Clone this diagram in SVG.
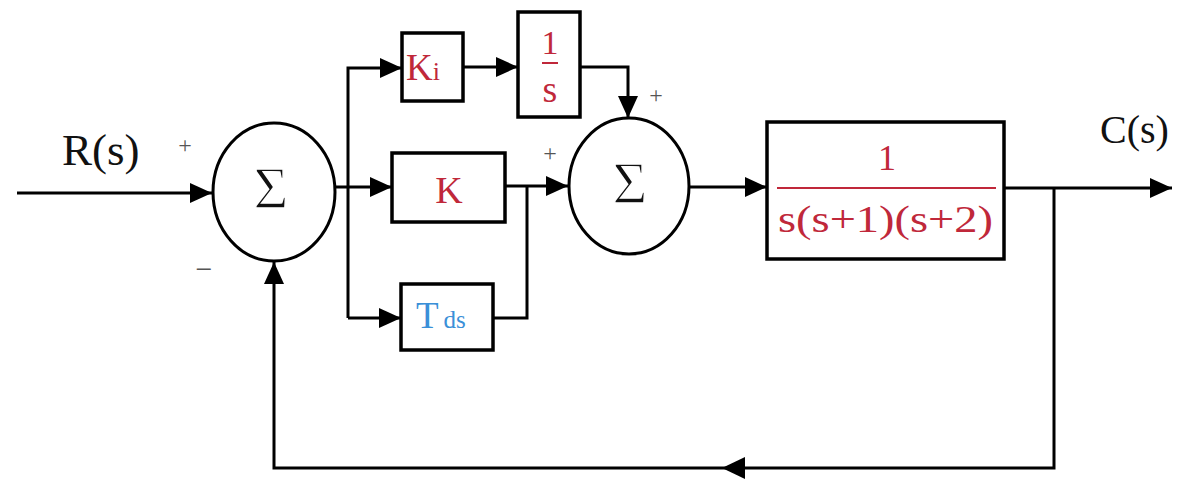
<svg xmlns="http://www.w3.org/2000/svg" width="1178" height="479" viewBox="0 0 1178 479">
<style>
.ln{fill:none;stroke:#000;stroke-width:3}
.bx{fill:#fff;stroke:#000;stroke-width:3.5}
.ci{fill:#fff;stroke:#000;stroke-width:3}
.t{font-family:"Liberation Serif","DejaVu Serif",serif;fill:#111}
.sg{font-family:"Liberation Serif","DejaVu Serif",serif;fill:#111;stroke:#fff;stroke-width:1.4}
.r{font-family:"Liberation Serif","DejaVu Serif",serif;fill:#c0283a}
.b{font-family:"Liberation Serif","DejaVu Serif",serif;fill:#3a90d8}
.pm{font-family:"Liberation Serif",serif;fill:#555}
</style>
<defs>
<marker id="ah" markerUnits="userSpaceOnUse" markerWidth="22" markerHeight="20" refX="22" refY="10" orient="auto">
<path d="M0,0 L22,10 L0,20 Z" fill="#000"/>
</marker>
</defs>
<rect width="1178" height="479" fill="#fff"/>
<g id="connectors">
<path class="ln" d="M17,193 H212" marker-end="url(#ah)"/>
<path class="ln" d="M335,187 H392" marker-end="url(#ah)"/>
<path class="ln" d="M348,318 V68 H402" marker-end="url(#ah)"/>
<path class="ln" d="M348,318 H401" marker-end="url(#ah)"/>
<path class="ln" d="M463,67 H518" marker-end="url(#ah)"/>
<path class="ln" d="M580,67 H628 V118" marker-end="url(#ah)"/>
<path class="ln" d="M505,186 H568" marker-end="url(#ah)"/>
<path class="ln" d="M493,318 H527 V186"/>
<path class="ln" d="M690,187 H767" marker-end="url(#ah)"/>
<path class="ln" d="M1004,188 H1172" marker-end="url(#ah)"/>
<path class="ln" d="M1054,188 V468 H274 V262" marker-end="url(#ah)"/>
<path d="M745,457 L722,468 L745,479 Z" fill="#000"/>
</g>
<g id="sum1">
<ellipse class="ci" cx="274" cy="192" rx="61" ry="69"/>
<text class="sg" x="271" y="208" font-size="60" text-anchor="middle">Σ</text>
</g>
<g id="sum2">
<ellipse class="ci" cx="629" cy="186" rx="60" ry="68"/>
<text class="sg" x="630" y="203" font-size="60" text-anchor="middle">Σ</text>
</g>
<g id="ki">
<rect class="bx" x="402" y="33" width="61" height="68"/>
<text class="r" x="406" y="80" font-size="37">K<tspan font-size="26">i</tspan></text>
</g>
<g id="integ">
<rect class="bx" x="518" y="12" width="62" height="105"/>
<text class="r" x="550" y="54" font-size="34" text-anchor="middle">1</text>
<line x1="542" y1="63" x2="558" y2="63" stroke="#c0283a" stroke-width="2"/>
<text class="r" x="550" y="102" font-size="38" text-anchor="middle">s</text>
</g>
<g id="kp">
<rect class="bx" x="392" y="153" width="113" height="69"/>
<text class="r" x="449" y="203" font-size="38" text-anchor="middle">K</text>
</g>
<g id="td">
<rect class="bx" x="401" y="284" width="92" height="66"/>
<text class="b" x="416" y="328" font-size="37">T<tspan font-size="25" dx="5">ds</tspan></text>
</g>
<g id="plant">
<rect class="bx" x="767" y="122" width="237" height="137"/>
<text class="r" x="887" y="170" font-size="36" text-anchor="middle">1</text>
<line x1="777" y1="188" x2="996" y2="188" stroke="#c0283a" stroke-width="2"/>
<text class="r" x="778" y="232" font-size="38" textLength="215" lengthAdjust="spacingAndGlyphs">s(s+1)(s+2)</text>
</g>
<g id="labels">
<text class="t" x="62" y="165" font-size="45">R(s)</text>
<text class="t" x="1100" y="143" font-size="40">C(s)</text>
<text class="pm" x="185" y="153" font-size="24" text-anchor="middle">+</text>
<text class="pm" x="204" y="279" font-size="30" text-anchor="middle">−</text>
<text class="pm" x="550" y="161" font-size="24" text-anchor="middle">+</text>
<text class="pm" x="656" y="103" font-size="24" text-anchor="middle">+</text>
</g>
</svg>
